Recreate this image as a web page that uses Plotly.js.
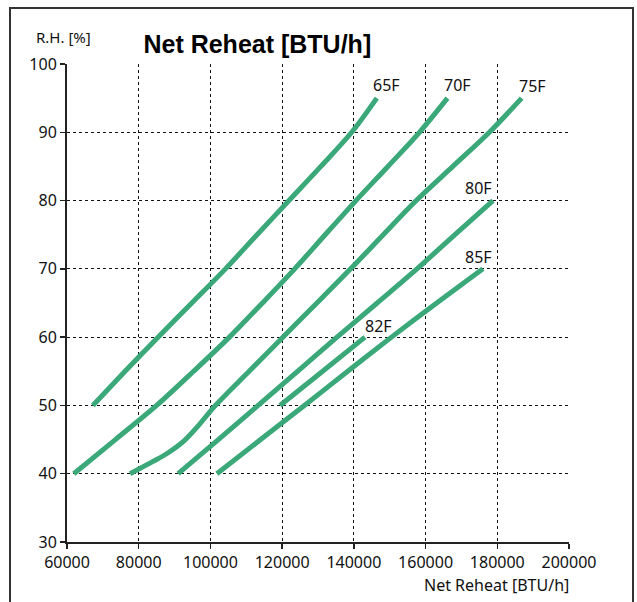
<!DOCTYPE html>
<html>
<head>
<meta charset="utf-8">
<script src="https://cdn.plot.ly/plotly-3.0.1.min.js"></script>
<style>
html,body{margin:0;padding:0;background:#fff;}
#wrap{position:relative;width:637px;height:602px;overflow:hidden;}
#chart{width:637px;height:602px;}
#frame{position:absolute;left:9px;top:7px;width:621px;height:620px;border:2px solid #333;pointer-events:none;}
</style>
</head>
<body>
<div id="wrap"><div id="chart"></div><div id="frame"></div></div>
<script>
// Net reheat [BTU/h] vs relative humidity [%] for each temperature
const series = ["65F", "70F", "75F", "80F", "82F", "85F"];
const x65 = [67200, 76200, 85400, 94800, 104200, 113000, 121900, 130800, 139400, 146400];
const y65 = [50, 55, 60, 65, 70, 75, 80, 85, 90, 95];
const x70 = [61900, 73500, 85000, 95300, 105300, 114500, 123500, 132000, 140600, 149500, 158300, 166100];
const y70 = [40, 45, 50, 55, 60, 65, 70, 75, 80, 85, 90, 95];
const x75 = [77600, 84000, 88000, 92400, 96400, 101400, 110800, 120200, 129700, 139100, 148200, 157400, 167600, 177800, 186800];
const y75 = [40, 41.8, 43, 44.7, 46.9, 50, 55, 60, 65, 70, 75, 80, 85, 90, 95];
const x80 = [91000, 102200, 113300, 124300, 135300, 146500, 157600, 168200, 178800];
const y80 = [40, 45, 50, 55, 60, 65, 70, 75, 80];
const x82 = [119400, 131300, 143100];
const y82 = [50, 55, 60];
const x85 = [101800, 114000, 126200, 138300, 150500, 163100, 176000];
const y85 = [40, 45, 50, 55, 60, 65, 70];
const xTicks = [60000, 80000, 100000, 120000, 140000, 160000, 180000, 200000];
const yTicks = [30, 40, 50, 60, 70, 80, 90, 100];

const xs = [x65, x70, x75, x80, x82, x85];
const ys = [y65, y70, y75, y80, y82, y85];
const green = "#3aa878";

const traces = series.map((name, i) => ({
  type: "scatter", mode: "lines", name: name,
  x: xs[i], y: ys[i],
  line: {color: green, width: 5, shape: "spline", smoothing: 0.9},
  hoverinfo: "skip"
}));

// label placement: [xanchor, xshift, yshift]
const labelPos = {
  "65F": ["left", -6, 0],
  "70F": ["left", -5, 0],
  "75F": ["left", -5, -1],
  "80F": ["right", 1, 0],
  "82F": ["left", -2, -2],
  "85F": ["right", 11, -1]
};
const labelFont = {family: "Noto Sans, Open Sans, sans-serif", size: 16, color: "#111"};
const annotations = series.map((name, i) => {
  const n = xs[i].length - 1;
  const p = labelPos[name];
  return {
    x: xs[i][n], y: ys[i][n], xref: "x", yref: "y",
    text: name, showarrow: false,
    xanchor: p[0], yanchor: "bottom", xshift: p[1], yshift: p[2],
    font: labelFont
  };
});
annotations.push({
  xref: "paper", yref: "paper", x: -0.066, y: 1.056, xanchor: "left", yanchor: "middle",
  text: "R.H. [%]", showarrow: false,
  font: {family: "Noto Sans, Open Sans, sans-serif", size: 15, color: "#111"}
});
annotations.push({
  xref: "paper", yref: "paper", x: 1.004, y: -0.091, xanchor: "right", yanchor: "middle",
  text: "Net Reheat [BTU/h]", showarrow: false,
  font: {family: "Noto Sans, Open Sans, sans-serif", size: 16, color: "#111"}
});

const axisCommon = {
  showgrid: true, gridcolor: "#111", griddash: "dot", gridwidth: 1.2,
  showline: true, linecolor: "#222", linewidth: 2,
  ticks: "outside", ticklen: 5, tickwidth: 1.5, tickcolor: "#222",
  zeroline: false,
  tickfont: {family: "Noto Sans, Open Sans, sans-serif", size: 16, color: "#111"}
};

const layout = {
  width: 637, height: 602,
  margin: {l: 67, r: 68, t: 64, b: 60},
  paper_bgcolor: "#fff", plot_bgcolor: "#fff",
  showlegend: false,
  title: {
    text: "<b>Net Reheat [BTU/h]</b>",
    x: 0.404, xref: "container", xanchor: "center",
    y: 0.927, yref: "container", yanchor: "middle",
    font: {family: "Liberation Sans, Arial, sans-serif", size: 25, color: "#000"}
  },
  xaxis: Object.assign({}, axisCommon, {
    range: [60000, 200000], tickmode: "array", tickvals: xTicks,
    ticktext: xTicks.map(String)
  }),
  yaxis: Object.assign({}, axisCommon, {
    range: [30, 100], tickmode: "array", tickvals: yTicks,
    ticktext: yTicks.map(String)
  }),
  annotations: annotations
};

Plotly.newPlot("chart", traces, layout, {displayModeBar: false, staticPlot: true});
</script>
</body>
</html>
